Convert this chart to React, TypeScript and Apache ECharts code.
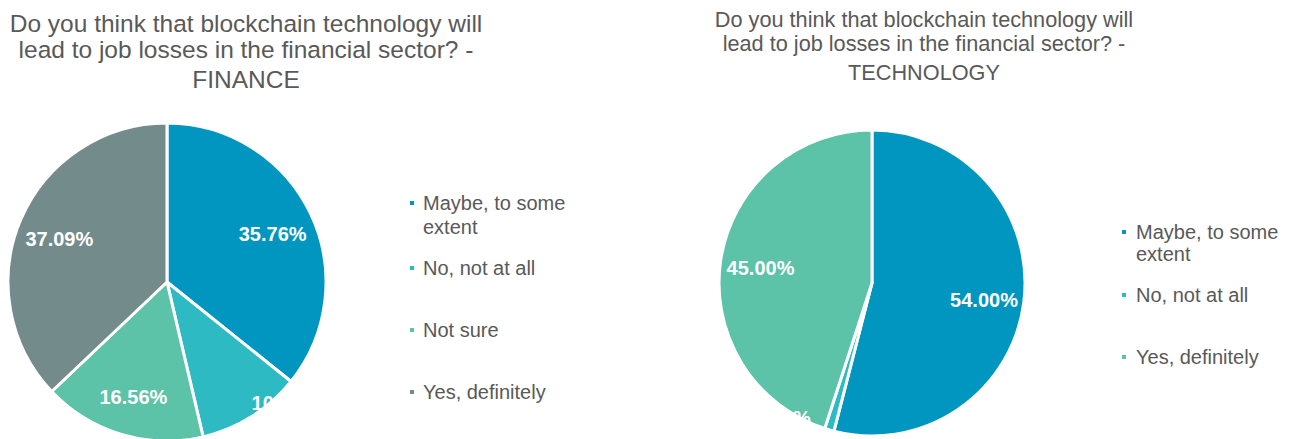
import React, { useEffect, useRef } from 'react';
import * as echarts from 'echarts';

const FONT = '"Liberation Sans", Arial, Helvetica, sans-serif';
const TEXT_COLOR = '#595959';

const QUESTION = 'Do you think that blockchain technology will\nlead to job losses in the financial sector? -';

const financeCategories = ['Maybe, to some extent', 'No, not at all', 'Not sure', 'Yes, definitely'];
const financeValues = [35.76, 10.59, 16.56, 37.09];
const financeColors = ['#0096BF', '#2EBAC3', '#5CC2A8', '#738C8B'];

const technologyCategories = ['Maybe, to some extent', 'No, not at all', 'Yes, definitely'];
const technologyValues = [54.0, 1.0, 45.0];
const technologyColors = ['#0096BF', '#2EBAC3', '#5CC2A8'];

type Cfg = {
  subtitle: string;
  categories: string[];
  values: number[];
  colors: string[];
  center: [number, number];
  radius: number;
  titleX: number;
  titleTop: number;
  titleFont: number;
  titleLine: number;
  titleGap: number;
  legendLeft: number;
  legendTops: number[];
  legendLine: number;
  legendPad: number;
  nudge: Record<number, [number, number]>;
};

const WRAPPED = 'Maybe, to some extent';

function buildOption(c: Cfg): any {
  const legends = c.categories.map((name, i) => {
    const twoLine = name === WRAPPED;
    // for the wrapped item: a 6x6 square at the top of a taller (invisible) box,
    // so that the marker sits level with the first text line
    const tallH = 6 + c.legendLine;
    return {
      data: [{ name, itemStyle: { color: c.colors[i] } }],
      orient: 'vertical',
      left: c.legendLeft,
      top: c.legendTops[i],
      padding: 0,
      icon: twoLine
        ? `path://M0,0h6v6h-6z M0,${tallH}h0.01v-0.01h-0.01z`
        : 'rect',
      itemWidth: 6,
      itemHeight: twoLine ? tallH : 6,
      selectedMode: false,
      formatter: (n: string) => (n === WRAPPED ? 'Maybe, to some\nextent' : n),
      textStyle: {
        fontFamily: FONT,
        fontSize: 20,
        color: TEXT_COLOR,
        lineHeight: c.legendLine,
        padding: [0, 0, 0, c.legendPad],
      },
    };
  });
  const titleStyle = {
    fontFamily: FONT,
    fontSize: c.titleFont,
    fontWeight: 'normal',
    color: TEXT_COLOR,
    lineHeight: c.titleLine,
  };
  return {
    animation: false,
    backgroundColor: '#ffffff',
    title: {
      text: QUESTION,
      subtext: c.subtitle,
      left: c.titleX,
      top: c.titleTop,
      textAlign: 'center',
      padding: 0,
      itemGap: c.titleGap,
      textStyle: titleStyle,
      subtextStyle: titleStyle,
    },
    legend: legends,
    series: [
      {
        type: 'pie',
        center: c.center,
        radius: c.radius,
        startAngle: 90,
        clockwise: true,
        data: c.categories.map((name, i) => ({
          name,
          value: c.values[i],
          itemStyle: { color: c.colors[i] },
        })),
        itemStyle: { borderColor: '#ffffff', borderWidth: 3 },
        label: {
          show: true,
          position: 'inside',
          formatter: (p: any) => `${Number(p.value).toFixed(2)}%`,
          color: '#ffffff',
          fontFamily: FONT,
          fontSize: 20,
          fontWeight: 'bold',
        },
        labelLine: { show: false },
        emphasis: { disabled: true },
        labelLayout: (p: any) => {
          const lx = p.labelRect.x + p.labelRect.width / 2;
          const ly = p.labelRect.y + p.labelRect.height / 2;
          const n = c.nudge[p.dataIndex] || [0, 0];
          return {
            x: lx + (lx - c.center[0]) * 0.42 + n[0],
            y: ly + (ly - c.center[1]) * 0.42 + 3 + n[1],
          };
        },
      },
    ],
  };
}

const financeCfg: Cfg = {
  subtitle: 'FINANCE',
  categories: financeCategories,
  values: financeValues,
  colors: financeColors,
  center: [167, 282],
  radius: 159,
  titleX: 246,
  titleTop: 10,
  titleFont: 24.5,
  titleLine: 26.5,
  titleGap: 3,
  legendLeft: 408,
  legendTops: [191, 256, 318, 380],
  legendLine: 24,
  legendPad: 3,
  nudge: { 1: [56, 19] },
};

const technologyCfg: Cfg = {
  subtitle: 'TECHNOLOGY',
  categories: technologyCategories,
  values: technologyValues,
  colors: technologyColors,
  center: [225, 283],
  radius: 153,
  titleX: 277,
  titleTop: 7.5,
  titleFont: 21.7,
  titleLine: 24,
  titleGap: 5,
  legendLeft: 473,
  legendTops: [221, 284, 346],
  legendLine: 22,
  legendPad: 4,
  nudge: { 1: [-58, 24] },
};

function PieChart({ cfg, left }: { cfg: Cfg; left: number }) {
  const ref = useRef<HTMLDivElement>(null);
  useEffect(() => {
    if (!ref.current) return;
    const chart = echarts.init(ref.current, undefined, { renderer: 'svg' });
    chart.setOption(buildOption(cfg));
    return () => chart.dispose();
  }, [cfg]);
  return (
    <div
      ref={ref}
      style={{ position: 'absolute', left, top: 0, width: 647, height: 439 }}
    />
  );
}

export default function App() {
  return (
    <div
      style={{
        position: 'fixed',
        left: 0,
        top: 0,
        width: 1294,
        height: 439,
        background: '#ffffff',
        overflow: 'hidden',
      }}
    >
      <PieChart cfg={financeCfg} left={0} />
      <PieChart cfg={technologyCfg} left={647} />
    </div>
  );
}
